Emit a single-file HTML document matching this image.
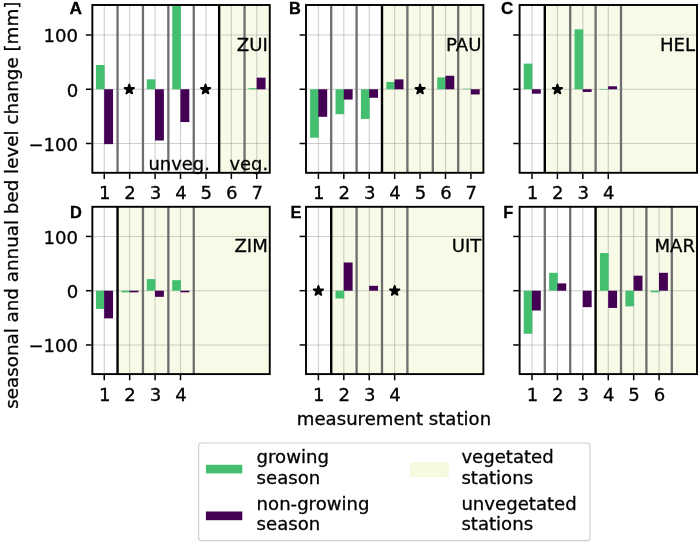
<!DOCTYPE html>
<html lang="en"><head><meta charset="utf-8"><title>Seasonal and annual bed level change</title>
<style>html,body{margin:0;padding:0;background:#fff}body{width:700px;height:544px;overflow:hidden}text{stroke:#000;stroke-width:.3px;paint-order:stroke}svg{display:block;will-change:transform;transform:translateZ(0)}</style>
</head><body>
<svg role="img" aria-label="Seasonal and annual bed level change per measurement station" width="700" height="544" viewBox="0 0 700 544" font-family='"DejaVu Sans", "Liberation Sans", sans-serif' font-size="18.1" fill="#000">
<rect width="700" height="544" fill="#fff"/>
<g class="panel panel-A">
<rect x="219.15" y="5.0" width="50.60" height="167.80" fill="#f8fae8"/>
<line x1="104.25" y1="5.0" x2="104.25" y2="172.8" stroke="#8c8c8c" stroke-opacity="0.42" stroke-width="1.1"/>
<line x1="129.67" y1="5.0" x2="129.67" y2="172.8" stroke="#8c8c8c" stroke-opacity="0.42" stroke-width="1.1"/>
<line x1="155.09" y1="5.0" x2="155.09" y2="172.8" stroke="#8c8c8c" stroke-opacity="0.42" stroke-width="1.1"/>
<line x1="180.51" y1="5.0" x2="180.51" y2="172.8" stroke="#8c8c8c" stroke-opacity="0.42" stroke-width="1.1"/>
<line x1="205.93" y1="5.0" x2="205.93" y2="172.8" stroke="#8c8c8c" stroke-opacity="0.42" stroke-width="1.1"/>
<line x1="231.35" y1="5.0" x2="231.35" y2="172.8" stroke="#8c8c8c" stroke-opacity="0.42" stroke-width="1.1"/>
<line x1="256.77" y1="5.0" x2="256.77" y2="172.8" stroke="#8c8c8c" stroke-opacity="0.42" stroke-width="1.1"/>
<line x1="92.35" y1="143.50" x2="269.75" y2="143.50" stroke="#8c8c8c" stroke-opacity="0.42" stroke-width="1.1"/>
<line x1="92.35" y1="89.25" x2="269.75" y2="89.25" stroke="#8c8c8c" stroke-opacity="0.42" stroke-width="1.1"/>
<line x1="92.35" y1="35.00" x2="269.75" y2="35.00" stroke="#8c8c8c" stroke-opacity="0.42" stroke-width="1.1"/>
<line x1="117.55" y1="5.0" x2="117.55" y2="172.8" stroke="#6e6e6e" stroke-width="2.3"/>
<line x1="142.95" y1="5.0" x2="142.95" y2="172.8" stroke="#6e6e6e" stroke-width="2.3"/>
<line x1="168.35" y1="5.0" x2="168.35" y2="172.8" stroke="#6e6e6e" stroke-width="2.3"/>
<line x1="193.75" y1="5.0" x2="193.75" y2="172.8" stroke="#6e6e6e" stroke-width="2.3"/>
<line x1="244.55" y1="5.0" x2="244.55" y2="172.8" stroke="#6e6e6e" stroke-width="2.3"/>
<line x1="219.15" y1="5.0" x2="219.15" y2="172.8" stroke="#000" stroke-width="2.4"/>
<rect x="95.95" y="65.00" width="8.7" height="24.25" fill="#44bf70"/>
<rect x="104.15" y="89.25" width="8.9" height="54.90" fill="#440154"/>
<rect x="146.79" y="79.32" width="8.7" height="9.93" fill="#44bf70"/>
<rect x="154.99" y="89.25" width="8.9" height="51.27" fill="#440154"/>
<rect x="172.21" y="5.00" width="8.7" height="84.25" fill="#44bf70"/>
<rect x="180.41" y="89.25" width="8.9" height="32.82" fill="#440154"/>
<rect x="248.47" y="88.17" width="8.7" height="1.08" fill="#44bf70"/>
<rect x="256.67" y="77.64" width="8.9" height="11.61" fill="#440154"/>
<polygon points="129.27,84.55 130.37,87.94 133.93,87.94 131.05,90.03 132.15,93.41 129.27,91.32 126.39,93.41 127.49,90.03 124.61,87.94 128.17,87.94" fill="#000" stroke="#000" stroke-width="1.9" stroke-linejoin="round"/>
<polygon points="205.53,84.55 206.63,87.94 210.19,87.94 207.31,90.03 208.41,93.41 205.53,91.32 202.65,93.41 203.75,90.03 200.87,87.94 204.43,87.94" fill="#000" stroke="#000" stroke-width="1.9" stroke-linejoin="round"/>
<rect x="92.35" y="5.0" width="177.4" height="167.80" fill="none" stroke="#000" stroke-width="1.9"/>
<line x1="104.25" y1="173.70000000000002" x2="104.25" y2="179.0" stroke="#000" stroke-width="1.5"/>
<text x="104.65" y="199.20" text-anchor="middle">1</text>
<line x1="129.67" y1="173.70000000000002" x2="129.67" y2="179.0" stroke="#000" stroke-width="1.5"/>
<text x="130.07" y="199.20" text-anchor="middle">2</text>
<line x1="155.09" y1="173.70000000000002" x2="155.09" y2="179.0" stroke="#000" stroke-width="1.5"/>
<text x="155.49" y="199.20" text-anchor="middle">3</text>
<line x1="180.51" y1="173.70000000000002" x2="180.51" y2="179.0" stroke="#000" stroke-width="1.5"/>
<text x="180.91" y="199.20" text-anchor="middle">4</text>
<line x1="205.93" y1="173.70000000000002" x2="205.93" y2="179.0" stroke="#000" stroke-width="1.5"/>
<text x="206.33" y="199.20" text-anchor="middle">5</text>
<line x1="231.35" y1="173.70000000000002" x2="231.35" y2="179.0" stroke="#000" stroke-width="1.5"/>
<text x="231.75" y="199.20" text-anchor="middle">6</text>
<line x1="256.77" y1="173.70000000000002" x2="256.77" y2="179.0" stroke="#000" stroke-width="1.5"/>
<text x="257.17" y="199.20" text-anchor="middle">7</text>
<line x1="85.94999999999999" y1="143.50" x2="91.44999999999999" y2="143.50" stroke="#000" stroke-width="1.5"/>
<text x="78.15" y="150.80" text-anchor="end">−100</text>
<line x1="85.94999999999999" y1="89.25" x2="91.44999999999999" y2="89.25" stroke="#000" stroke-width="1.5"/>
<text x="78.15" y="96.55" text-anchor="end">0</text>
<line x1="85.94999999999999" y1="35.00" x2="91.44999999999999" y2="35.00" stroke="#000" stroke-width="1.5"/>
<text x="78.15" y="42.30" text-anchor="end">100</text>
<text x="267.75" y="50.50" text-anchor="end">ZUI</text>
<text x="69.6" y="14.0" font-family='"Liberation Sans", "DejaVu Sans", sans-serif' font-weight="bold" font-size="17.3" stroke-width="0.4">A</text>
</g>
<g class="panel panel-B">
<rect x="382.00" y="5.0" width="101.40" height="167.80" fill="#f8fae8"/>
<line x1="318.40" y1="5.0" x2="318.40" y2="172.8" stroke="#8c8c8c" stroke-opacity="0.42" stroke-width="1.1"/>
<line x1="343.82" y1="5.0" x2="343.82" y2="172.8" stroke="#8c8c8c" stroke-opacity="0.42" stroke-width="1.1"/>
<line x1="369.24" y1="5.0" x2="369.24" y2="172.8" stroke="#8c8c8c" stroke-opacity="0.42" stroke-width="1.1"/>
<line x1="394.66" y1="5.0" x2="394.66" y2="172.8" stroke="#8c8c8c" stroke-opacity="0.42" stroke-width="1.1"/>
<line x1="420.08" y1="5.0" x2="420.08" y2="172.8" stroke="#8c8c8c" stroke-opacity="0.42" stroke-width="1.1"/>
<line x1="445.50" y1="5.0" x2="445.50" y2="172.8" stroke="#8c8c8c" stroke-opacity="0.42" stroke-width="1.1"/>
<line x1="470.92" y1="5.0" x2="470.92" y2="172.8" stroke="#8c8c8c" stroke-opacity="0.42" stroke-width="1.1"/>
<line x1="306.0" y1="143.50" x2="483.4" y2="143.50" stroke="#8c8c8c" stroke-opacity="0.42" stroke-width="1.1"/>
<line x1="306.0" y1="89.25" x2="483.4" y2="89.25" stroke="#8c8c8c" stroke-opacity="0.42" stroke-width="1.1"/>
<line x1="306.0" y1="35.00" x2="483.4" y2="35.00" stroke="#8c8c8c" stroke-opacity="0.42" stroke-width="1.1"/>
<line x1="331.20" y1="5.0" x2="331.20" y2="172.8" stroke="#6e6e6e" stroke-width="2.3"/>
<line x1="356.60" y1="5.0" x2="356.60" y2="172.8" stroke="#6e6e6e" stroke-width="2.3"/>
<line x1="407.40" y1="5.0" x2="407.40" y2="172.8" stroke="#6e6e6e" stroke-width="2.3"/>
<line x1="432.80" y1="5.0" x2="432.80" y2="172.8" stroke="#6e6e6e" stroke-width="2.3"/>
<line x1="458.20" y1="5.0" x2="458.20" y2="172.8" stroke="#6e6e6e" stroke-width="2.3"/>
<line x1="382.00" y1="5.0" x2="382.00" y2="172.8" stroke="#000" stroke-width="2.4"/>
<rect x="310.10" y="89.25" width="8.7" height="48.50" fill="#44bf70"/>
<rect x="318.30" y="89.25" width="8.9" height="27.56" fill="#440154"/>
<rect x="335.52" y="89.25" width="8.7" height="24.95" fill="#44bf70"/>
<rect x="343.72" y="89.25" width="8.9" height="10.31" fill="#440154"/>
<rect x="360.94" y="89.25" width="8.7" height="29.67" fill="#44bf70"/>
<rect x="369.14" y="89.25" width="8.9" height="8.52" fill="#440154"/>
<rect x="386.36" y="81.93" width="8.7" height="7.32" fill="#44bf70"/>
<rect x="394.56" y="79.38" width="8.9" height="9.87" fill="#440154"/>
<rect x="437.20" y="77.42" width="8.7" height="11.83" fill="#44bf70"/>
<rect x="445.40" y="75.74" width="8.9" height="13.51" fill="#440154"/>
<rect x="462.62" y="88.71" width="8.7" height="0.54" fill="#44bf70"/>
<rect x="470.82" y="89.25" width="8.9" height="5.21" fill="#440154"/>
<polygon points="420.08,84.55 421.18,87.94 424.74,87.94 421.86,90.03 422.96,93.41 420.08,91.32 417.20,93.41 418.30,90.03 415.42,87.94 418.98,87.94" fill="#000" stroke="#000" stroke-width="1.9" stroke-linejoin="round"/>
<rect x="306.0" y="5.0" width="177.4" height="167.80" fill="none" stroke="#000" stroke-width="1.9"/>
<line x1="318.40" y1="173.70000000000002" x2="318.40" y2="179.0" stroke="#000" stroke-width="1.5"/>
<text x="318.80" y="199.20" text-anchor="middle">1</text>
<line x1="343.82" y1="173.70000000000002" x2="343.82" y2="179.0" stroke="#000" stroke-width="1.5"/>
<text x="344.22" y="199.20" text-anchor="middle">2</text>
<line x1="369.24" y1="173.70000000000002" x2="369.24" y2="179.0" stroke="#000" stroke-width="1.5"/>
<text x="369.64" y="199.20" text-anchor="middle">3</text>
<line x1="394.66" y1="173.70000000000002" x2="394.66" y2="179.0" stroke="#000" stroke-width="1.5"/>
<text x="395.06" y="199.20" text-anchor="middle">4</text>
<line x1="420.08" y1="173.70000000000002" x2="420.08" y2="179.0" stroke="#000" stroke-width="1.5"/>
<text x="420.48" y="199.20" text-anchor="middle">5</text>
<line x1="445.50" y1="173.70000000000002" x2="445.50" y2="179.0" stroke="#000" stroke-width="1.5"/>
<text x="445.90" y="199.20" text-anchor="middle">6</text>
<line x1="470.92" y1="173.70000000000002" x2="470.92" y2="179.0" stroke="#000" stroke-width="1.5"/>
<text x="471.32" y="199.20" text-anchor="middle">7</text>
<line x1="299.6" y1="143.50" x2="305.1" y2="143.50" stroke="#000" stroke-width="1.5"/>
<line x1="299.6" y1="89.25" x2="305.1" y2="89.25" stroke="#000" stroke-width="1.5"/>
<line x1="299.6" y1="35.00" x2="305.1" y2="35.00" stroke="#000" stroke-width="1.5"/>
<text x="481.40" y="50.50" text-anchor="end">PAU</text>
<text x="289.0" y="14.0" font-family='"Liberation Sans", "DejaVu Sans", sans-serif' font-weight="bold" font-size="16.4" stroke-width="0.4">B</text>
</g>
<g class="panel panel-C">
<rect x="544.80" y="5.0" width="152.20" height="167.80" fill="#f8fae8"/>
<line x1="532.00" y1="5.0" x2="532.00" y2="172.8" stroke="#8c8c8c" stroke-opacity="0.42" stroke-width="1.1"/>
<line x1="557.42" y1="5.0" x2="557.42" y2="172.8" stroke="#8c8c8c" stroke-opacity="0.42" stroke-width="1.1"/>
<line x1="582.84" y1="5.0" x2="582.84" y2="172.8" stroke="#8c8c8c" stroke-opacity="0.42" stroke-width="1.1"/>
<line x1="608.26" y1="5.0" x2="608.26" y2="172.8" stroke="#8c8c8c" stroke-opacity="0.42" stroke-width="1.1"/>
<line x1="519.6" y1="143.50" x2="697.0" y2="143.50" stroke="#8c8c8c" stroke-opacity="0.42" stroke-width="1.1"/>
<line x1="519.6" y1="89.25" x2="697.0" y2="89.25" stroke="#8c8c8c" stroke-opacity="0.42" stroke-width="1.1"/>
<line x1="519.6" y1="35.00" x2="697.0" y2="35.00" stroke="#8c8c8c" stroke-opacity="0.42" stroke-width="1.1"/>
<line x1="570.20" y1="5.0" x2="570.20" y2="172.8" stroke="#6e6e6e" stroke-width="2.3"/>
<line x1="595.60" y1="5.0" x2="595.60" y2="172.8" stroke="#6e6e6e" stroke-width="2.3"/>
<line x1="621.00" y1="5.0" x2="621.00" y2="172.8" stroke="#6e6e6e" stroke-width="2.3"/>
<line x1="544.80" y1="5.0" x2="544.80" y2="172.8" stroke="#000" stroke-width="2.4"/>
<rect x="523.70" y="63.59" width="8.7" height="25.66" fill="#44bf70"/>
<rect x="531.90" y="89.25" width="8.9" height="4.45" fill="#440154"/>
<rect x="574.54" y="29.30" width="8.7" height="59.95" fill="#44bf70"/>
<rect x="582.74" y="89.25" width="8.9" height="2.71" fill="#440154"/>
<rect x="599.96" y="89.25" width="8.7" height="0.54" fill="#44bf70"/>
<rect x="608.16" y="86.27" width="8.9" height="2.98" fill="#440154"/>
<polygon points="557.42,84.55 558.52,87.94 562.08,87.94 559.20,90.03 560.30,93.41 557.42,91.32 554.54,93.41 555.64,90.03 552.76,87.94 556.32,87.94" fill="#000" stroke="#000" stroke-width="1.9" stroke-linejoin="round"/>
<rect x="519.6" y="5.0" width="177.4" height="167.80" fill="none" stroke="#000" stroke-width="1.9"/>
<line x1="532.00" y1="173.70000000000002" x2="532.00" y2="179.0" stroke="#000" stroke-width="1.5"/>
<text x="532.40" y="199.20" text-anchor="middle">1</text>
<line x1="557.42" y1="173.70000000000002" x2="557.42" y2="179.0" stroke="#000" stroke-width="1.5"/>
<text x="557.82" y="199.20" text-anchor="middle">2</text>
<line x1="582.84" y1="173.70000000000002" x2="582.84" y2="179.0" stroke="#000" stroke-width="1.5"/>
<text x="583.24" y="199.20" text-anchor="middle">3</text>
<line x1="608.26" y1="173.70000000000002" x2="608.26" y2="179.0" stroke="#000" stroke-width="1.5"/>
<text x="608.66" y="199.20" text-anchor="middle">4</text>
<line x1="513.2" y1="143.50" x2="518.7" y2="143.50" stroke="#000" stroke-width="1.5"/>
<line x1="513.2" y1="89.25" x2="518.7" y2="89.25" stroke="#000" stroke-width="1.5"/>
<line x1="513.2" y1="35.00" x2="518.7" y2="35.00" stroke="#000" stroke-width="1.5"/>
<text x="695.00" y="50.50" text-anchor="end">HEL</text>
<text x="501.1" y="14.0" font-family='"Liberation Sans", "DejaVu Sans", sans-serif' font-weight="bold" font-size="17.0" stroke-width="0.4">C</text>
</g>
<g class="panel panel-D">
<rect x="117.55" y="206.8" width="152.20" height="167.30" fill="#f8fae8"/>
<line x1="104.25" y1="206.8" x2="104.25" y2="374.1" stroke="#8c8c8c" stroke-opacity="0.42" stroke-width="1.1"/>
<line x1="129.67" y1="206.8" x2="129.67" y2="374.1" stroke="#8c8c8c" stroke-opacity="0.42" stroke-width="1.1"/>
<line x1="155.09" y1="206.8" x2="155.09" y2="374.1" stroke="#8c8c8c" stroke-opacity="0.42" stroke-width="1.1"/>
<line x1="180.51" y1="206.8" x2="180.51" y2="374.1" stroke="#8c8c8c" stroke-opacity="0.42" stroke-width="1.1"/>
<line x1="92.35" y1="344.95" x2="269.75" y2="344.95" stroke="#8c8c8c" stroke-opacity="0.42" stroke-width="1.1"/>
<line x1="92.35" y1="290.70" x2="269.75" y2="290.70" stroke="#8c8c8c" stroke-opacity="0.42" stroke-width="1.1"/>
<line x1="92.35" y1="236.45" x2="269.75" y2="236.45" stroke="#8c8c8c" stroke-opacity="0.42" stroke-width="1.1"/>
<line x1="142.95" y1="206.8" x2="142.95" y2="374.1" stroke="#6e6e6e" stroke-width="2.3"/>
<line x1="168.35" y1="206.8" x2="168.35" y2="374.1" stroke="#6e6e6e" stroke-width="2.3"/>
<line x1="193.75" y1="206.8" x2="193.75" y2="374.1" stroke="#6e6e6e" stroke-width="2.3"/>
<line x1="117.55" y1="206.8" x2="117.55" y2="374.1" stroke="#000" stroke-width="2.4"/>
<rect x="95.95" y="290.70" width="8.7" height="18.23" fill="#44bf70"/>
<rect x="104.15" y="290.70" width="8.9" height="27.67" fill="#440154"/>
<rect x="121.37" y="290.70" width="8.7" height="1.63" fill="#44bf70"/>
<rect x="129.57" y="290.70" width="8.9" height="1.63" fill="#440154"/>
<rect x="146.79" y="279.09" width="8.7" height="11.61" fill="#44bf70"/>
<rect x="154.99" y="290.70" width="8.9" height="6.13" fill="#440154"/>
<rect x="172.21" y="280.18" width="8.7" height="10.52" fill="#44bf70"/>
<rect x="180.41" y="290.70" width="8.9" height="1.63" fill="#440154"/>
<rect x="92.35" y="206.8" width="177.4" height="167.30" fill="none" stroke="#000" stroke-width="1.9"/>
<line x1="104.25" y1="375.0" x2="104.25" y2="380.3" stroke="#000" stroke-width="1.5"/>
<text x="104.65" y="401.10" text-anchor="middle">1</text>
<line x1="129.67" y1="375.0" x2="129.67" y2="380.3" stroke="#000" stroke-width="1.5"/>
<text x="130.07" y="401.10" text-anchor="middle">2</text>
<line x1="155.09" y1="375.0" x2="155.09" y2="380.3" stroke="#000" stroke-width="1.5"/>
<text x="155.49" y="401.10" text-anchor="middle">3</text>
<line x1="180.51" y1="375.0" x2="180.51" y2="380.3" stroke="#000" stroke-width="1.5"/>
<text x="180.91" y="401.10" text-anchor="middle">4</text>
<line x1="85.94999999999999" y1="344.95" x2="91.44999999999999" y2="344.95" stroke="#000" stroke-width="1.5"/>
<text x="78.15" y="352.25" text-anchor="end">−100</text>
<line x1="85.94999999999999" y1="290.70" x2="91.44999999999999" y2="290.70" stroke="#000" stroke-width="1.5"/>
<text x="78.15" y="298.00" text-anchor="end">0</text>
<line x1="85.94999999999999" y1="236.45" x2="91.44999999999999" y2="236.45" stroke="#000" stroke-width="1.5"/>
<text x="78.15" y="243.75" text-anchor="end">100</text>
<text x="267.75" y="252.30" text-anchor="end">ZIM</text>
<text x="70.1" y="217.6" font-family='"Liberation Sans", "DejaVu Sans", sans-serif' font-weight="bold" font-size="16.4" stroke-width="0.4">D</text>
</g>
<g class="panel panel-E">
<rect x="331.20" y="206.8" width="152.20" height="167.30" fill="#f8fae8"/>
<line x1="318.40" y1="206.8" x2="318.40" y2="374.1" stroke="#8c8c8c" stroke-opacity="0.42" stroke-width="1.1"/>
<line x1="343.82" y1="206.8" x2="343.82" y2="374.1" stroke="#8c8c8c" stroke-opacity="0.42" stroke-width="1.1"/>
<line x1="369.24" y1="206.8" x2="369.24" y2="374.1" stroke="#8c8c8c" stroke-opacity="0.42" stroke-width="1.1"/>
<line x1="394.66" y1="206.8" x2="394.66" y2="374.1" stroke="#8c8c8c" stroke-opacity="0.42" stroke-width="1.1"/>
<line x1="306.0" y1="344.95" x2="483.4" y2="344.95" stroke="#8c8c8c" stroke-opacity="0.42" stroke-width="1.1"/>
<line x1="306.0" y1="290.70" x2="483.4" y2="290.70" stroke="#8c8c8c" stroke-opacity="0.42" stroke-width="1.1"/>
<line x1="306.0" y1="236.45" x2="483.4" y2="236.45" stroke="#8c8c8c" stroke-opacity="0.42" stroke-width="1.1"/>
<line x1="356.60" y1="206.8" x2="356.60" y2="374.1" stroke="#6e6e6e" stroke-width="2.3"/>
<line x1="382.00" y1="206.8" x2="382.00" y2="374.1" stroke="#6e6e6e" stroke-width="2.3"/>
<line x1="407.40" y1="206.8" x2="407.40" y2="374.1" stroke="#6e6e6e" stroke-width="2.3"/>
<line x1="331.20" y1="206.8" x2="331.20" y2="374.1" stroke="#000" stroke-width="2.4"/>
<rect x="335.52" y="290.70" width="8.7" height="7.76" fill="#44bf70"/>
<rect x="343.72" y="262.49" width="8.9" height="28.21" fill="#440154"/>
<rect x="369.14" y="285.82" width="8.9" height="4.88" fill="#440154"/>
<polygon points="318.40,286.00 319.50,289.39 323.06,289.39 320.18,291.48 321.28,294.86 318.40,292.77 315.52,294.86 316.62,291.48 313.74,289.39 317.30,289.39" fill="#000" stroke="#000" stroke-width="1.9" stroke-linejoin="round"/>
<polygon points="394.66,286.00 395.76,289.39 399.32,289.39 396.44,291.48 397.54,294.86 394.66,292.77 391.78,294.86 392.88,291.48 390.00,289.39 393.56,289.39" fill="#000" stroke="#000" stroke-width="1.9" stroke-linejoin="round"/>
<rect x="306.0" y="206.8" width="177.4" height="167.30" fill="none" stroke="#000" stroke-width="1.9"/>
<line x1="318.40" y1="375.0" x2="318.40" y2="380.3" stroke="#000" stroke-width="1.5"/>
<text x="318.80" y="401.10" text-anchor="middle">1</text>
<line x1="343.82" y1="375.0" x2="343.82" y2="380.3" stroke="#000" stroke-width="1.5"/>
<text x="344.22" y="401.10" text-anchor="middle">2</text>
<line x1="369.24" y1="375.0" x2="369.24" y2="380.3" stroke="#000" stroke-width="1.5"/>
<text x="369.64" y="401.10" text-anchor="middle">3</text>
<line x1="394.66" y1="375.0" x2="394.66" y2="380.3" stroke="#000" stroke-width="1.5"/>
<text x="395.06" y="401.10" text-anchor="middle">4</text>
<line x1="299.6" y1="344.95" x2="305.1" y2="344.95" stroke="#000" stroke-width="1.5"/>
<line x1="299.6" y1="290.70" x2="305.1" y2="290.70" stroke="#000" stroke-width="1.5"/>
<line x1="299.6" y1="236.45" x2="305.1" y2="236.45" stroke="#000" stroke-width="1.5"/>
<text x="481.40" y="252.30" text-anchor="end">UIT</text>
<text x="290.4" y="217.6" font-family='"Liberation Sans", "DejaVu Sans", sans-serif' font-weight="bold" font-size="16.4" stroke-width="0.4">E</text>
</g>
<g class="panel panel-F">
<rect x="595.60" y="206.8" width="101.40" height="167.30" fill="#f8fae8"/>
<line x1="532.00" y1="206.8" x2="532.00" y2="374.1" stroke="#8c8c8c" stroke-opacity="0.42" stroke-width="1.1"/>
<line x1="557.42" y1="206.8" x2="557.42" y2="374.1" stroke="#8c8c8c" stroke-opacity="0.42" stroke-width="1.1"/>
<line x1="582.84" y1="206.8" x2="582.84" y2="374.1" stroke="#8c8c8c" stroke-opacity="0.42" stroke-width="1.1"/>
<line x1="608.26" y1="206.8" x2="608.26" y2="374.1" stroke="#8c8c8c" stroke-opacity="0.42" stroke-width="1.1"/>
<line x1="633.68" y1="206.8" x2="633.68" y2="374.1" stroke="#8c8c8c" stroke-opacity="0.42" stroke-width="1.1"/>
<line x1="659.10" y1="206.8" x2="659.10" y2="374.1" stroke="#8c8c8c" stroke-opacity="0.42" stroke-width="1.1"/>
<line x1="519.6" y1="344.95" x2="697.0" y2="344.95" stroke="#8c8c8c" stroke-opacity="0.42" stroke-width="1.1"/>
<line x1="519.6" y1="290.70" x2="697.0" y2="290.70" stroke="#8c8c8c" stroke-opacity="0.42" stroke-width="1.1"/>
<line x1="519.6" y1="236.45" x2="697.0" y2="236.45" stroke="#8c8c8c" stroke-opacity="0.42" stroke-width="1.1"/>
<line x1="544.80" y1="206.8" x2="544.80" y2="374.1" stroke="#6e6e6e" stroke-width="2.3"/>
<line x1="570.20" y1="206.8" x2="570.20" y2="374.1" stroke="#6e6e6e" stroke-width="2.3"/>
<line x1="621.00" y1="206.8" x2="621.00" y2="374.1" stroke="#6e6e6e" stroke-width="2.3"/>
<line x1="646.40" y1="206.8" x2="646.40" y2="374.1" stroke="#6e6e6e" stroke-width="2.3"/>
<line x1="671.80" y1="206.8" x2="671.80" y2="374.1" stroke="#6e6e6e" stroke-width="2.3"/>
<line x1="595.60" y1="206.8" x2="595.60" y2="374.1" stroke="#000" stroke-width="2.4"/>
<rect x="523.70" y="290.70" width="8.7" height="43.07" fill="#44bf70"/>
<rect x="531.90" y="290.70" width="8.9" height="19.80" fill="#440154"/>
<rect x="549.12" y="272.80" width="8.7" height="17.90" fill="#44bf70"/>
<rect x="557.32" y="283.38" width="8.9" height="7.32" fill="#440154"/>
<rect x="582.74" y="290.70" width="8.9" height="16.44" fill="#440154"/>
<rect x="599.96" y="253.05" width="8.7" height="37.65" fill="#44bf70"/>
<rect x="608.16" y="290.70" width="8.9" height="17.25" fill="#440154"/>
<rect x="625.38" y="290.70" width="8.7" height="15.68" fill="#44bf70"/>
<rect x="633.58" y="275.67" width="8.9" height="15.03" fill="#440154"/>
<rect x="650.80" y="290.70" width="8.7" height="1.63" fill="#44bf70"/>
<rect x="659.00" y="272.80" width="8.9" height="17.90" fill="#440154"/>
<rect x="519.6" y="206.8" width="177.4" height="167.30" fill="none" stroke="#000" stroke-width="1.9"/>
<line x1="532.00" y1="375.0" x2="532.00" y2="380.3" stroke="#000" stroke-width="1.5"/>
<text x="532.40" y="401.10" text-anchor="middle">1</text>
<line x1="557.42" y1="375.0" x2="557.42" y2="380.3" stroke="#000" stroke-width="1.5"/>
<text x="557.82" y="401.10" text-anchor="middle">2</text>
<line x1="582.84" y1="375.0" x2="582.84" y2="380.3" stroke="#000" stroke-width="1.5"/>
<text x="583.24" y="401.10" text-anchor="middle">3</text>
<line x1="608.26" y1="375.0" x2="608.26" y2="380.3" stroke="#000" stroke-width="1.5"/>
<text x="608.66" y="401.10" text-anchor="middle">4</text>
<line x1="633.68" y1="375.0" x2="633.68" y2="380.3" stroke="#000" stroke-width="1.5"/>
<text x="634.08" y="401.10" text-anchor="middle">5</text>
<line x1="659.10" y1="375.0" x2="659.10" y2="380.3" stroke="#000" stroke-width="1.5"/>
<text x="659.50" y="401.10" text-anchor="middle">6</text>
<line x1="513.2" y1="344.95" x2="518.7" y2="344.95" stroke="#000" stroke-width="1.5"/>
<line x1="513.2" y1="290.70" x2="518.7" y2="290.70" stroke="#000" stroke-width="1.5"/>
<line x1="513.2" y1="236.45" x2="518.7" y2="236.45" stroke="#000" stroke-width="1.5"/>
<text x="695.00" y="252.30" text-anchor="end">MAR</text>
<text x="503.2" y="217.6" font-family='"Liberation Sans", "DejaVu Sans", sans-serif' font-weight="bold" font-size="16.4" stroke-width="0.4">F</text>
</g>
<text x="148.5" y="169.8" font-size="17.9">unveg.</text>
<text x="229.5" y="169.8" font-size="17.9">veg.</text>
<text x="394.0" y="425.3" text-anchor="middle">measurement station</text>
<text transform="translate(17.8 205.2) rotate(-90)" text-anchor="middle" font-size="18.3">seasonal and annual bed level change [mm]</text>
<g class="legend">
<rect x="198.6" y="443.0" width="391.3" height="97.6" rx="2.6" fill="#fff" stroke="#d0d0d0" stroke-width="1.2"/>
<rect x="205.9" y="464.8" width="36.4" height="8.6" fill="#44bf70"/>
<rect x="205.9" y="511.5" width="36.4" height="8.7" fill="#440154"/>
<rect x="410.9" y="462.8" width="37.3" height="13.5" fill="#f7fadf" stroke="#f1f5d6" stroke-width="0.8"/>
<text x="256.6" y="463.4">growing</text><text x="256.6" y="483.7">season</text>
<text x="256.6" y="509.5">non-growing</text><text x="256.6" y="529.7">season</text>
<text x="461.4" y="463.4">vegetated</text><text x="461.4" y="483.7">stations</text>
<text x="461.4" y="509.5">unvegetated</text><text x="461.4" y="529.7">stations</text>
</g>
</svg>
</body></html>
